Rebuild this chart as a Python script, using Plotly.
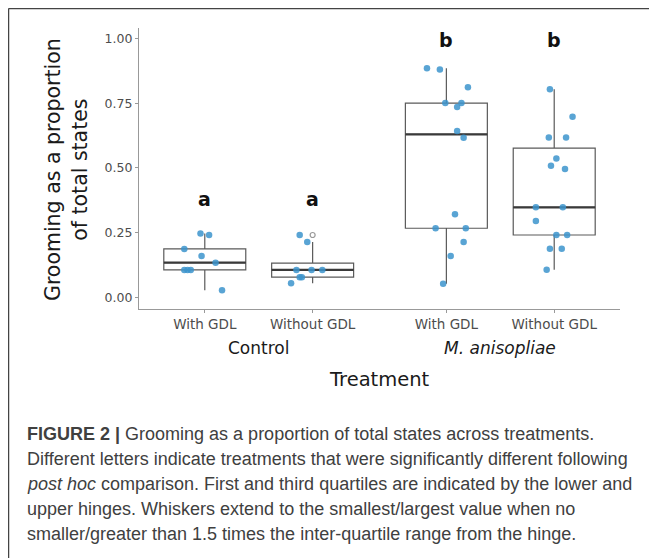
import plotly.graph_objects as go

# ---- data ----
groups = ["Control", "M. anisopliae"]
subgroups = ["With GDL", "Without GDL"]

# points per box, and horizontal jitter offsets
pts_ctrl_with = [0.247, 0.241, 0.187, 0.160, 0.134, 0.106, 0.106, 0.106, 0.027]
jit_ctrl_with = [-0.04, 0.04, -0.19, -0.03, 0.10, -0.19, -0.16, -0.13, 0.16]
pts_ctrl_without = [0.241, 0.214, 0.106, 0.106, 0.106, 0.078, 0.078, 0.055]
jit_ctrl_without = [-0.12, -0.05, -0.15, -0.01, 0.09, -0.12, -0.10, -0.20]
pts_ma_with = [0.885, 0.881, 0.812, 0.751, 0.751, 0.736, 0.643, 0.617, 0.321,
               0.267, 0.267, 0.214, 0.160, 0.053]
jit_ma_with = [-0.18, -0.06, 0.20, -0.01, 0.14, 0.10, 0.10, 0.16, 0.08,
               -0.10, 0.18, 0.16, 0.04, -0.03]
pts_ma_without = [0.804, 0.698, 0.618, 0.618, 0.537, 0.509, 0.496, 0.348, 0.348,
                  0.295, 0.241, 0.241, 0.188, 0.188, 0.107]
jit_ma_without = [-0.04, 0.17, -0.05, 0.11, 0.02, -0.03, 0.10, -0.17, 0.08,
                  -0.17, 0.02, 0.12, -0.04, 0.07, -0.07]

# box statistics (lower whisker, Q1, median, Q3, upper whisker)
box_low = [0.027, 0.055, 0.053, 0.107]
box_q1 = [0.106, 0.078, 0.267, 0.241]
box_med = [0.134, 0.106, 0.630, 0.348]
box_q3 = [0.187, 0.1325, 0.751, 0.577]
box_high = [0.247, 0.214, 0.885, 0.804]
outliers = [[], [0.241], [], []]

letters = ["a", "a", "b", "b"]
letter_y = [0.38, 0.38, 0.995, 0.995]

y_ticks = [0.0, 0.25, 0.50, 0.75, 1.00]
y_ticktext = ["0.00", "0.25", "0.50", "0.75", "1.00"]

caption_lines = [
    "<b>FIGURE 2 |</b> Grooming as a proportion of total states across treatments.",
    "Different letters indicate treatments that were significantly different following",
    "<i>post hoc</i> comparison. First and third quartiles are indicated by the lower and",
    "upper hinges. Whiskers extend to the smallest/largest value when no",
    "smaller/greater than 1.5 times the inter-quartile range from the hinge.",
]

# ---- layout helpers ----
# page body has an 8px margin, so the figure starts at (8, 8) of the window
OFF = 8
W, H = 657 - OFF, 558 - OFF
PL, PR, PT, PB = 139 - OFF, 620 - OFF, 28 - OFF, 309 - OFF  # plot area (figure px)
def px(x):  # window px -> paper
    return (x - OFF - PL) / (PR - PL)
def py(y):
    return (PB - (y - OFF)) / (PB - PT)

GAP = 1.24
positions = [1, 2, 1 + GAP + 1, 2 + GAP + 1]
ticklabels = [s for g in groups for s in subgroups]
BOXW = 0.76

all_pts = [pts_ctrl_with, pts_ctrl_without, pts_ma_with, pts_ma_without]
all_jit = [jit_ctrl_with, jit_ctrl_without, jit_ma_with, jit_ma_without]

fig = go.Figure()
for i, pos in enumerate(positions):
    fig.add_trace(go.Box(
        x=[pos], q1=[box_q1[i]], median=[box_med[i]], q3=[box_q3[i]],
        lowerfence=[box_low[i]], upperfence=[box_high[i]],
        width=BOXW, whiskerwidth=0, fillcolor="white",
        line=dict(color="#5a5a5a", width=1.2), boxpoints=False,
        showlegend=False, hoverinfo="skip"))
    # thicker median line
    fig.add_trace(go.Scatter(
        x=[pos - BOXW / 2, pos + BOXW / 2], y=[box_med[i], box_med[i]],
        mode="lines", line=dict(color="#3a3a3a", width=2.2),
        showlegend=False, hoverinfo="skip"))
    if outliers[i]:
        fig.add_trace(go.Scatter(
            x=[pos] * len(outliers[i]), y=outliers[i], mode="markers",
            marker=dict(size=5, color="white", line=dict(color="#999999", width=1.2)),
            showlegend=False, hoverinfo="skip"))
    fig.add_trace(go.Scatter(
        x=[pos + j for j in all_jit[i]], y=all_pts[i], mode="markers",
        marker=dict(size=6.5, color="rgba(60,148,205,0.85)"),
        showlegend=False, hoverinfo="skip"))
    fig.add_annotation(x=pos, y=letter_y[i], text="<b>%s</b>" % letters[i],
                       showarrow=False, xref="x", yref="y",
                       font=dict(family="DejaVu Sans", size=19, color="#111111"))

xfont = dict(family="DejaVu Sans", size=13.5, color="#4d4d4d")
yfont = dict(family="DejaVu Sans", size=12.5, color="#4d4d4d")
fig.update_layout(
    width=W, height=H,
    margin=dict(l=PL, r=W - PR, t=PT, b=H - PB, pad=0),
    paper_bgcolor="white", plot_bgcolor="white",
    xaxis=dict(range=[positions[0] - 0.61, positions[-1] + 0.61],
               tickvals=positions, ticktext=ticklabels, tickfont=xfont,
               showgrid=False, zeroline=False, showline=True,
               linecolor="#999999", linewidth=1.2, ticks="outside",
               ticklen=3, tickcolor="#999999"),
    yaxis=dict(range=[-0.045, 1.041], tickvals=y_ticks, ticktext=y_ticktext,
               tickfont=yfont, showgrid=False, zeroline=False, showline=True,
               linecolor="#999999", linewidth=1.2, ticks="outside",
               ticklen=3, tickcolor="#999999"),
)

# group labels
group_centers = [(positions[0] + positions[1]) / 2, (positions[2] + positions[3]) / 2]
group_text = ["Control", "<i>M. anisopliae</i>"]
for gc, gt in zip(group_centers, group_text):
    fig.add_annotation(x=gc, y=py(348), xref="x", yref="paper", text=gt,
                       showarrow=False, yanchor="middle",
                       font=dict(family="DejaVu Sans", size=17, color="#1a1a1a"))
fig.add_annotation(x=0.5, y=py(379), xref="paper", yref="paper", text="Treatment",
                   showarrow=False, yanchor="middle",
                   font=dict(family="DejaVu Sans", size=19.5, color="#1a1a1a"))
fig.add_annotation(x=px(67), y=py(170), xref="paper", yref="paper",
                   text="Grooming as a proportion<br>of total states", textangle=-90,
                   showarrow=False, xanchor="center", yanchor="middle",
                   font=dict(family="DejaVu Sans", size=20.5, color="#1a1a1a"))

# caption
cap_y = [434, 459, 484, 509, 534]
for line, cy in zip(caption_lines, cap_y):
    fig.add_annotation(x=px(25), y=py(cy), xref="paper", yref="paper", text=line,
                       showarrow=False, xanchor="left", yanchor="middle", align="left",
                       font=dict(family="Liberation Sans", size=18, color="#404040"))

# outer figure frame (cropped at right and bottom)
fig.add_shape(type="line", xref="paper", yref="paper",
              x0=px(8.5), x1=px(670), y0=py(8.5), y1=py(8.5),
              line=dict(color="#444444", width=1.5))
fig.add_shape(type="line", xref="paper", yref="paper",
              x0=px(8.5), x1=px(8.5), y0=py(8.5), y1=py(570),
              line=dict(color="#444444", width=1.5))

fig.write_html("out.html")
